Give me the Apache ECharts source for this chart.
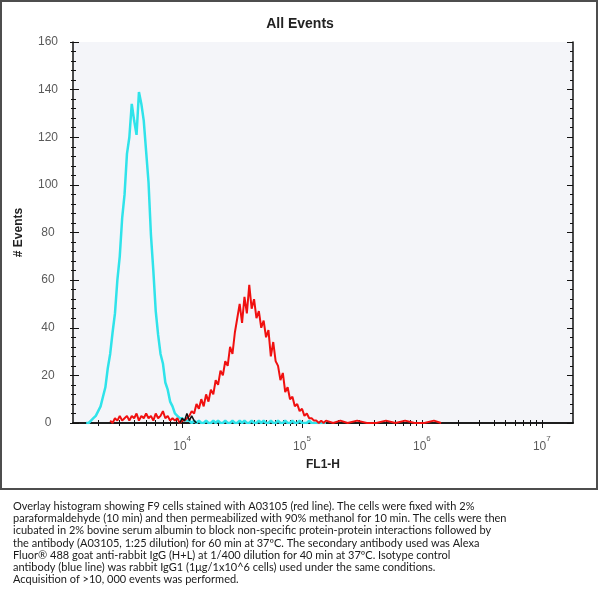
<!DOCTYPE html>
<html>
<head>
<meta charset="utf-8">
<title>All Events</title>
<script src="https://cdn.jsdelivr.net/npm/echarts@6/dist/echarts.min.js"></script>
<style>
  html, body { margin: 0; padding: 0; background: #fff; }
  #chart { width: 600px; height: 596px; }
</style>
</head>
<body>
<div id="chart"></div>
<script>
// FL1-H channel centres, in decades (log10 of fluorescence)
const binLog = [
  3.20, 3.22, 3.24, 3.26, 3.28, 3.30, 3.32, 3.34, 3.36, 3.38,
  3.40, 3.42, 3.44, 3.46, 3.48, 3.50, 3.52, 3.54, 3.56, 3.58,
  3.60, 3.62, 3.64, 3.66, 3.68, 3.70, 3.72, 3.74, 3.76, 3.78,
  3.80, 3.82, 3.84, 3.86, 3.88, 3.90, 3.92, 3.94, 3.96, 3.98,
  4.00, 4.02, 4.04, 4.06, 4.08, 4.10, 4.12, 4.14, 4.16, 4.18,
  4.20, 4.22, 4.24, 4.26, 4.28, 4.30, 4.32, 4.34, 4.36, 4.38,
  4.40, 4.42, 4.44, 4.46, 4.48, 4.50, 4.52, 4.54, 4.56, 4.58,
  4.60, 4.62, 4.64, 4.66, 4.68, 4.70, 4.72, 4.74, 4.76, 4.78,
  4.80, 4.82, 4.84, 4.86, 4.88, 4.90, 4.92, 4.94, 4.96, 4.98,
  5.00, 5.02, 5.04, 5.06, 5.08, 5.10, 5.12, 5.14, 5.16, 5.18,
  5.20
];

// isotype control (blue/cyan line)
const isotypeCounts = [
  0, 0, 1, 2, 3, 5, 7, 11, 15, 23,
  29, 38, 46, 60, 70, 86, 96, 113, 120, 134,
  127, 121, 139, 134, 127, 114, 101, 79, 64, 47,
  37, 29, 25, 17, 14, 9, 7, 4, 3, 2,
  2, 1, 1, 1, 0, 1, 0, 1, 0, 0,
  1, 0, 0, 1, 0, 1, 0, 0, 1, 0,
  0, 1, 0, 0, 1, 0, 1, 0, 0, 1,
  0, 0, 1, 0, 1, 0, 0, 1, 0, 0,
  1, 0, 0, 1, 0, 0, 1, 0, 0, 1,
  0, 0, 0, 1, 0, 0, 0, 0, 0, 0,
  0
];

// A03105 stained cells (red line)
const stainedCounts = [
  null, null, null, null, null, null, null, null, null, null,
  1, 0, 2, 1, 3, 1, 2, 3, 1, 3,
  2, 4, 1, 3, 2, 4, 2, 3, 1, 4,
  2, 3, 5, 2, 3, 1, 2, 1, 2, 0,
  1, 1, 2, 3, 5, 4, 8, 6, 10, 7,
  12, 9, 14, 12, 18, 16, 22, 20, 26, 24,
  32, 29, 38, 44, 50, 42, 53, 46, 58, 48,
  52, 44, 47, 40, 43, 36, 39, 28, 34, 26,
  24, 18, 21, 13, 15, 10, 11, 7, 8, 5,
  6, 3, 4, 2, 2, 1, 1, 0, 1, 0,
  1
];
const stainedTailLog = [5.26, 5.32, 5.38, 5.46, 5.54, 5.62, 5.70, 5.78, 5.86, 5.94, 6.02, 6.10, 6.16];
const stainedTailCounts = [0, 1, 0, 1, 0, 0, 1, 0, 1, 0, 0, 1, 0];

// small black trace where the two overlap
const overlapLog = [3.98, 4.00, 4.02, 4.04, 4.06, 4.08, 4.10, 4.12];
const overlapCounts = [0, 2, 1, 4, 1, 3, 1, 0];

const decades = [4, 5, 6, 7];

const captionLines = [
  'Overlay histogram showing F9 cells stained with A03105 (red line). The cells were fixed with 2%',
  'paraformaldehyde (10 min) and then permeabilized with 90% methanol for 10 min. The cells were then',
  'icubated in 2% bovine serum albumin to block non-specific protein-protein interactions followed by',
  'the antibody (A03105, 1:25 dilution) for 60 min at 37ºC. The secondary antibody used was Alexa',
  'Fluor® 488 goat anti-rabbit IgG (H+L) at 1/400 dilution for 40 min at 37ºC. Isotype control',
  'antibody (blue line) was rabbit IgG1 (1μg/1x10^6 cells) used under the same conditions.',
  'Acquisition of >10, 000 events was performed.'
];

const xMin = 3.09;
const xMax = 7.26;

// log minor ticks (2..9 x 10^k)
const minorTicks = [];
for (let k = 3; k <= 7; k++) {
  for (let m = 2; m <= 9; m++) {
    const v = k + Math.log10(m);
    if (v > xMin && v < xMax) minorTicks.push(v);
  }
}
const allTicks = decades.concat(minorTicks);

const axisColor = '#111';
const labelStyle = { fontFamily: 'Liberation Sans', fontSize: 12, color: '#5a5a5a' };
const nameStyle = { fontFamily: 'Liberation Sans', fontSize: 12, fontWeight: 'bold', color: '#222' };

const chart = echarts.init(document.getElementById('chart'));

const option = {
  animation: false,
  backgroundColor: '#fff',
  title: {
    text: 'All Events',
    left: 'center',
    top: 12,
    textStyle: { fontFamily: 'Liberation Sans', fontSize: 14, fontWeight: 'bold', color: '#222' }
  },
  grid: {
    left: 73,
    right: 27,
    top: 42,
    bottom: 173,
    show: true,
    backgroundColor: '#f4f5f9',
    borderWidth: 0
  },
  xAxis: [
    {
      type: 'value',
      min: xMin,
      max: xMax,
      position: 'bottom',
      splitLine: { show: false },
      axisLine: { show: true, lineStyle: { color: axisColor, width: 1.5 } },
      axisTick: { show: true, customValues: decades, length: 5, lineStyle: { color: axisColor } },
      axisLabel: {
        customValues: decades,
        margin: 12,
        ...labelStyle,
        formatter: v => '{b|10}{s|' + v + '}',
        rich: {
          b: { fontFamily: 'Liberation Sans', fontSize: 12, color: '#5a5a5a', lineHeight: 18, verticalAlign: 'bottom' },
          s: { fontFamily: 'Liberation Sans', fontSize: 8, color: '#5a5a5a', lineHeight: 18, verticalAlign: 'top' }
        }
      },
      name: 'FL1-H',
      nameLocation: 'middle',
      nameGap: 36,
      nameTextStyle: nameStyle
    },
    {
      type: 'value',
      min: xMin,
      max: xMax,
      position: 'bottom',
      splitLine: { show: false },
      axisLine: { show: false },
      axisLabel: { show: false },
      axisTick: { show: true, inside: true, customValues: allTicks, length: 3, lineStyle: { color: axisColor } }
    },
    {
      type: 'value',
      min: xMin,
      max: xMax,
      position: 'top',
      splitLine: { show: false },
      axisLine: { show: true, lineStyle: { color: axisColor, width: 1.5 } },
      axisLabel: { show: false },
      axisTick: { show: true, inside: true, customValues: allTicks, length: 3, lineStyle: { color: axisColor } }
    }
  ],
  yAxis: [
    {
      type: 'value',
      min: 0,
      max: 160,
      interval: 20,
      position: 'left',
      splitLine: { show: false },
      axisLine: { show: true, lineStyle: { color: axisColor, width: 1.5 } },
      axisTick: { show: true, length: 3, lineStyle: { color: axisColor } },
      minorTick: { show: true, splitNumber: 5, length: 2, lineStyle: { color: axisColor } },
      axisLabel: { margin: 25, align: 'center', ...labelStyle },
      name: '# Events',
      nameLocation: 'middle',
      nameRotate: 90,
      nameGap: 48,
      nameTextStyle: nameStyle
    },
    {
      type: 'value',
      min: 0,
      max: 160,
      interval: 20,
      position: 'left',
      splitLine: { show: false },
      axisLine: { show: false },
      axisLabel: { show: false },
      axisTick: { show: true, inside: true, length: 6, lineStyle: { color: axisColor } },
      minorTick: { show: true, splitNumber: 5, length: 3, lineStyle: { color: axisColor } }
    },
    {
      type: 'value',
      min: 0,
      max: 160,
      interval: 20,
      position: 'right',
      splitLine: { show: false },
      axisLine: { show: true, lineStyle: { color: axisColor, width: 1.5 } },
      axisLabel: { show: false },
      axisTick: { show: true, inside: true, length: 6, lineStyle: { color: axisColor } },
      minorTick: { show: true, splitNumber: 5, length: 3, lineStyle: { color: axisColor } }
    }
  ],
  series: [
    {
      name: 'Isotype control',
      type: 'line',
      data: binLog.map((x, i) => [x, isotypeCounts[i]]),
      showSymbol: false,
      lineStyle: { color: '#2fe3ea', width: 2.5 },
      z: 3
    },
    {
      name: 'A03105',
      type: 'line',
      data: binLog.map((x, i) => [x, stainedCounts[i]])
        .concat(stainedTailLog.map((x, i) => [x, stainedTailCounts[i]])),
      showSymbol: false,
      lineStyle: { color: '#f01010', width: 2 },
      z: 4
    },
    {
      name: 'Overlap',
      type: 'line',
      data: overlapLog.map((x, i) => [x, overlapCounts[i]]),
      showSymbol: false,
      lineStyle: { color: '#111', width: 1.5 },
      z: 5
    }
  ],
  graphic: [
    {
      type: 'rect',
      silent: true,
      z: 100,
      shape: { x: 1, y: 1, width: 596, height: 488 },
      style: { fill: null, stroke: '#4d4d4d', lineWidth: 2 }
    },
    {
      type: 'text',
      silent: true,
      x: 13,
      y: 500,
      style: {
        text: captionLines.join('\n'),
        fontFamily: 'Lato',
        fontSize: 11,
        lineHeight: 12.3,
        fill: '#1a1a1a',
        verticalAlign: 'top'
      }
    }
  ]
};

chart.setOption(option);

window.addEventListener('resize', () => chart.resize());
</script>
</body>
</html>
